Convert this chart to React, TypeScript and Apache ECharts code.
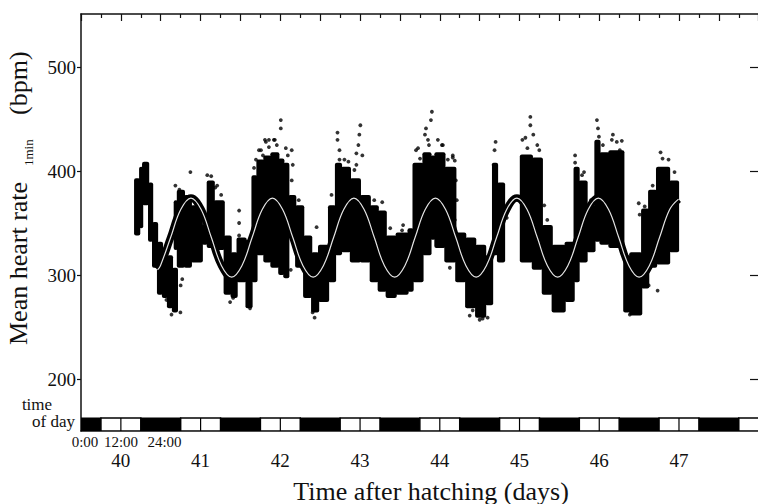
import React, { useEffect, useRef } from 'react';
import * as echarts from 'echarts';

// ---- data ----
const dayTickPositions = [40.5, 41.5, 42.5, 43.5, 44.5, 45.5, 46.5, 47.5];
const dayLabels = ['40', '41', '42', '43', '44', '45', '46', '47'];
const yTickValues = [200, 300, 400, 500];
const clockLabels = ['0:00', '12:00', '24:00'];

// dark (lights off) periods, in days after hatching
const darkPeriods = [
  [40.0, 40.25], [40.75, 41.25], [41.75, 42.25], [42.75, 43.25], [43.75, 44.25],
  [44.75, 45.25], [45.75, 46.25], [46.75, 47.25], [47.75, 48.25],
];
// light periods (each split at 12:00)
const lightPeriods = [
  [40.25, 40.75], [41.25, 41.75], [42.25, 42.75], [43.25, 43.75], [44.25, 44.75],
  [45.25, 45.75], [46.25, 46.75], [47.25, 47.75], [48.25, 48.75],
];

// dense cores of the 1-min heart-rate cloud: [dayStart, dayEnd, low bpm, high bpm]
const coreBins = [
  [40.673, 40.736, 338, 393], [40.736, 40.773, 345, 404], [40.773, 40.848, 367, 409],
  [40.848, 40.898, 332, 389], [40.898, 40.96, 307, 351], [40.96, 41.022, 281, 332],
  [41.022, 41.085, 278, 322], [41.085, 41.147, 268, 319], [41.147, 41.209, 264, 307],
  [41.17, 41.209, 324, 372], [41.209, 41.297, 307, 382], [41.297, 41.384, 307, 377],
  [41.384, 41.521, 312, 367], [41.521, 41.584, 329, 348], [41.584, 41.671, 326, 391],
  [41.671, 41.796, 324, 372], [41.796, 41.883, 281, 338], [41.883, 41.958, 278, 322],
  [41.958, 42.07, 293, 336], [42.07, 42.145, 268, 334], [42.145, 42.207, 293, 396],
  [42.207, 42.294, 319, 411], [42.294, 42.382, 312, 415], [42.382, 42.481, 307, 418],
  [42.481, 42.544, 300, 412], [42.544, 42.606, 297, 408], [42.606, 42.693, 336, 377],
  [42.693, 42.793, 307, 367], [42.793, 42.893, 278, 338], [42.893, 42.98, 264, 322],
  [42.98, 43.105, 274, 329], [43.105, 43.192, 293, 367], [43.192, 43.267, 319, 408],
  [43.267, 43.379, 322, 404], [43.379, 43.504, 312, 393], [43.504, 43.628, 312, 377],
  [43.628, 43.728, 293, 367], [43.728, 43.828, 284, 362], [43.828, 43.953, 278, 338],
  [43.953, 44.102, 281, 341], [44.102, 44.165, 284, 345], [44.165, 44.289, 293, 408],
  [44.289, 44.389, 319, 418], [44.389, 44.439, 334, 415], [44.439, 44.564, 326, 418],
  [44.564, 44.701, 312, 404], [44.701, 44.825, 293, 341], [44.825, 44.95, 268, 336],
  [44.95, 45.075, 259, 329], [45.075, 45.162, 271, 319], [45.162, 45.224, 319, 408],
  [45.224, 45.312, 312, 389], [45.511, 45.661, 312, 416], [45.661, 45.786, 305, 413],
  [45.786, 45.91, 281, 348], [45.91, 46.072, 264, 329], [46.072, 46.185, 274, 332],
  [46.185, 46.247, 293, 404], [46.247, 46.347, 312, 391], [46.347, 46.446, 322, 367],
  [46.446, 46.509, 332, 430], [46.509, 46.621, 329, 418], [46.621, 46.808, 326, 420],
  [46.808, 46.883, 264, 319], [46.883, 47.032, 261, 322], [47.032, 47.12, 287, 364],
  [47.12, 47.219, 307, 382], [47.219, 47.382, 310, 404], [47.382, 47.494, 322, 391],
];

// scattered individual readings outside the dense cores: [day, bpm]
const sparsePoints = [
  [41.372, 399], [41.135, 262], [41.247, 264], [41.072, 276], [41.01, 285], [41.25, 290],
  [41.27, 296], [41.584, 396], [41.633, 395], [41.683, 384], [41.983, 362], [41.983, 350],
  [41.983, 338], [41.995, 326], [42.12, 268], [42.095, 276], [42.319, 428], [42.257, 420],
  [41.908, 278], [41.87, 274], [42.506, 449], [42.506, 441], [42.431, 430], [42.357, 430],
  [42.643, 420], [42.656, 406], [42.643, 391], [42.631, 305], [42.955, 346], [42.905, 264],
  [42.93, 259], [43.217, 437], [43.217, 430], [43.242, 420], [43.504, 444], [43.491, 435],
  [43.479, 425], [43.529, 415], [43.454, 406], [44.04, 348], [44.07, 338], [44.401, 457],
  [44.389, 449], [44.327, 441], [44.314, 435], [44.364, 425], [44.227, 422], [44.539, 425],
  [44.663, 415], [44.688, 410], [44.626, 307], [44.738, 314], [45.1, 259], [45.0, 257],
  [44.913, 266], [45.2, 428], [45.187, 420], [45.175, 406], [45.34, 355], [45.636, 452],
  [45.636, 444], [45.574, 432], [45.673, 435], [45.723, 425], [46.471, 449], [46.484, 441],
  [46.496, 433], [46.671, 435], [46.783, 429], [46.758, 420], [46.197, 415], [46.197, 408],
  [46.309, 399], [46.883, 262], [46.97, 264], [46.995, 369], [47.007, 358], [47.269, 418],
  [47.294, 412], [47.357, 396], [47.12, 290], [47.232, 285],
  [41.184, 386], [41.234, 382], [41.534, 347], [41.559, 334], [41.708, 386], [41.758, 377],
  [41.833, 334], [42.17, 403], [42.194, 411], [42.232, 420], [42.282, 415], [42.307, 430],
  [42.357, 423], [42.419, 430], [42.456, 425], [42.569, 422], [42.594, 415], [42.656, 372],
  [42.668, 358], [42.731, 372], [43.142, 377], [43.242, 411], [43.304, 411], [43.354, 409],
  [43.429, 401], [43.454, 417], [43.678, 372], [43.778, 370], [43.878, 345], [44.027, 343],
  [44.202, 420], [44.252, 412], [44.352, 430], [44.476, 430], [44.526, 425], [44.601, 411],
  [44.663, 413], [44.751, 337], [44.701, 391], [44.713, 372], [44.688, 353], [44.875, 261],
  [45.037, 258], [45.262, 384], [45.536, 430], [45.599, 422], [45.748, 420], [45.81, 367],
  [45.848, 353], [46.284, 396], [46.396, 372], [46.546, 425], [46.658, 430], [46.72, 428],
  [47.07, 366], [47.17, 386], [47.369, 411], [47.444, 399],
];

// fitted circadian curve: [day, bpm]
const fitCurve = [
  [40.96, 305], [40.996, 309], [41.124, 336], [41.251, 363], [41.379, 374], [41.507, 363],
  [41.635, 336], [41.762, 309], [41.89, 298], [42.018, 309], [42.146, 336], [42.273, 363],
  [42.401, 374], [42.529, 363], [42.657, 336], [42.784, 309], [42.912, 298], [43.04, 309],
  [43.168, 336], [43.295, 363], [43.423, 374], [43.551, 363], [43.679, 336], [43.806, 309],
  [43.934, 298], [44.062, 309], [44.19, 336], [44.317, 363], [44.445, 374], [44.573, 363],
  [44.701, 336], [44.828, 309], [44.956, 298], [45.084, 309], [45.212, 336], [45.339, 363],
  [45.467, 374], [45.595, 363], [45.723, 336], [45.85, 309], [45.978, 298], [46.106, 309],
  [46.234, 336], [46.361, 363], [46.489, 374], [46.617, 363], [46.745, 336], [46.872, 309],
  [47.0, 298], [47.128, 309], [47.256, 336], [47.383, 363], [47.494, 373],
];

const X_MIN = 40;
const X_MAX = 48.491;
const Y_MIN = 150;
const Y_MAX = 551;
const BAR_TOP = 162.5;
const SERIF = '"Liberation Serif", "Times New Roman", "DejaVu Serif", serif';

export default function App() {
  const ref = useRef<HTMLDivElement>(null);

  useEffect(() => {
    if (!ref.current) return;
    const chart = echarts.init(ref.current, undefined, { renderer: 'svg' });

    const barData = [
      ...darkPeriods.map((p) => [p[0], p[1], 1]),
      ...lightPeriods.map((p) => [p[0], p[1], 0]),
    ];

    const option: any = {
      animation: false,
      backgroundColor: '#fff',
      grid: { left: 81, top: 14, width: 681, height: 417, containLabel: false },
      xAxis: [
        {
          type: 'value',
          position: 'bottom',
          min: X_MIN,
          max: X_MAX,
          axisLine: { show: true, lineStyle: { color: '#111', width: 1.5 } },
          axisTick: { show: false },
          splitLine: { show: false },
          axisLabel: {
            customValues: dayTickPositions,
            formatter: (v: number) => {
              const i = dayTickPositions.findIndex((t) => Math.abs(t - v) < 1e-6);
              return i >= 0 ? dayLabels[i] : '';
            },
            fontFamily: SERIF,
            fontSize: 19,
            color: '#111',
            margin: 20,
          },
        },
        {
          type: 'value',
          position: 'top',
          min: X_MIN,
          max: X_MAX,
          interval: 0.5,
          axisLine: { show: true, lineStyle: { color: '#111', width: 1.5 } },
          axisTick: { show: true, inside: true, length: 7, lineStyle: { color: '#111', width: 1.2 } },
          minorTick: { show: true, splitNumber: 2, length: 4, lineStyle: { color: '#111', width: 1.2 } },
          axisLabel: { show: false },
          splitLine: { show: false },
        },
      ],
      yAxis: [
        {
          type: 'value',
          position: 'left',
          min: Y_MIN,
          max: Y_MAX,
          axisLine: { show: true, lineStyle: { color: '#111', width: 1.5 } },
          axisTick: { show: true, customValues: yTickValues, length: 4, lineStyle: { color: '#111', width: 1.2 } },
          axisLabel: {
            customValues: yTickValues,
            fontFamily: SERIF,
            fontSize: 19,
            color: '#111',
            margin: 5,
          },
          splitLine: { show: false },
        },
        {
          type: 'value',
          position: 'right',
          min: Y_MIN,
          max: Y_MAX,
          axisLine: { show: false },
          axisTick: { show: true, inside: true, customValues: yTickValues, length: 8, lineStyle: { color: '#111', width: 1.2 } },
          axisLabel: { show: false },
          splitLine: { show: false },
        },
      ],
      series: [
        {
          type: 'custom',
          name: 'time of day',
          xAxisIndex: 0,
          yAxisIndex: 0,
          clip: true,
          data: barData,
          encode: { x: [0, 1] },
          renderItem: (params: any, api: any) => {
            const s = api.value(0);
            const e = api.value(1);
            const dark = api.value(2) === 1;
            const p0 = api.coord([s, BAR_TOP]);
            const p1 = api.coord([e, Y_MIN]);
            const w = p1[0] - p0[0];
            const h = p1[1] - p0[1];
            if (dark) {
              return {
                type: 'rect',
                shape: { x: p0[0], y: p0[1], width: w, height: h },
                style: { fill: '#000', stroke: '#000', lineWidth: 1.2 },
              };
            }
            const mid = api.coord([(s + e) / 2, BAR_TOP])[0];
            return {
              type: 'group',
              children: [
                {
                  type: 'rect',
                  shape: { x: p0[0], y: p0[1], width: w, height: h },
                  style: { fill: '#fff', stroke: '#000', lineWidth: 1.5 },
                },
                {
                  type: 'line',
                  shape: { x1: mid, y1: p0[1], x2: mid, y2: p1[1] },
                  style: { stroke: '#000', lineWidth: 1.2 },
                },
              ],
            };
          },
          z: 3,
        },
        {
          type: 'custom',
          name: 'dense',
          xAxisIndex: 0,
          yAxisIndex: 0,
          data: coreBins,
          encode: { x: [0, 1], y: [2, 3] },
          renderItem: (params: any, api: any) => {
            const p0 = api.coord([api.value(0), api.value(3)]);
            const p1 = api.coord([api.value(1), api.value(2)]);
            return {
              type: 'rect',
              shape: {
                x: p0[0] - 0.6,
                y: p0[1],
                width: p1[0] - p0[0] + 1.2,
                height: p1[1] - p0[1],
                r: 2,
              },
              style: { fill: '#000' },
            };
          },
          z: 2,
        },
        {
          type: 'scatter',
          name: 'sparse',
          xAxisIndex: 0,
          yAxisIndex: 0,
          data: sparsePoints,
          symbolSize: 3.8,
          itemStyle: { color: '#000' },
          z: 2,
        },
        {
          type: 'line',
          name: 'fit-outer',
          xAxisIndex: 0,
          yAxisIndex: 0,
          data: fitCurve,
          smooth: 0.4,
          showSymbol: false,
          symbol: 'none',
          lineStyle: { color: '#000', width: 7.5 },
          z: 4,
        },
        {
          type: 'line',
          name: 'fit-inner',
          xAxisIndex: 0,
          yAxisIndex: 0,
          data: fitCurve,
          smooth: 0.4,
          showSymbol: false,
          symbol: 'none',
          lineStyle: { color: '#e4e4e4', width: 1.2 },
          z: 5,
        },
      ],
      graphic: [
        {
          type: 'text', x: 18, y: 345, rotation: Math.PI / 2,
          style: { text: 'Mean heart rate', font: `26px ${SERIF}`, fill: '#111', textAlign: 'left', textVerticalAlign: 'middle' },
        },
        {
          type: 'text', x: 28.5, y: 166, rotation: Math.PI / 2,
          style: { text: '1min', font: `13px ${SERIF}`, fill: '#111', textAlign: 'left', textVerticalAlign: 'middle' },
        },
        {
          type: 'text', x: 18, y: 115, rotation: Math.PI / 2,
          style: { text: '(bpm)', font: `26px ${SERIF}`, fill: '#111', textAlign: 'left', textVerticalAlign: 'middle' },
        },
        {
          type: 'text', x: 431, y: 491,
          style: { text: 'Time after hatching (days)', font: `26px ${SERIF}`, fill: '#111', textAlign: 'center', textVerticalAlign: 'middle' },
        },
        {
          type: 'text', x: 37, y: 404,
          style: { text: 'time', font: `17px ${SERIF}`, fill: '#111', textAlign: 'center', textVerticalAlign: 'middle' },
        },
        {
          type: 'text', x: 75, y: 421,
          style: { text: 'of day', font: `17px ${SERIF}`, fill: '#111', textAlign: 'right', textVerticalAlign: 'middle' },
        },
        {
          type: 'text', x: 85, y: 442,
          style: { text: clockLabels[0], font: `15px ${SERIF}`, fill: '#111', textAlign: 'center', textVerticalAlign: 'middle' },
        },
        {
          type: 'text', x: 121, y: 442,
          style: { text: clockLabels[1], font: `15px ${SERIF}`, fill: '#111', textAlign: 'center', textVerticalAlign: 'middle' },
        },
        {
          type: 'text', x: 164.5, y: 442,
          style: { text: clockLabels[2], font: `15px ${SERIF}`, fill: '#111', textAlign: 'center', textVerticalAlign: 'middle' },
        },
      ],
    };

    chart.setOption(option);
    return () => chart.dispose();
  }, []);

  return (
    <div
      ref={ref}
      style={{ position: 'absolute', left: 0, top: 0, width: 758, height: 504, background: '#fff' }}
    />
  );
}
